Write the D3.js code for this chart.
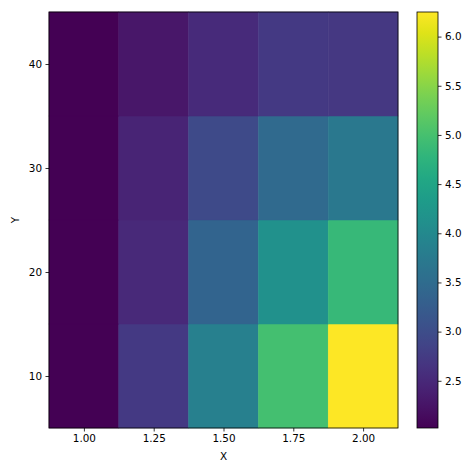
<!DOCTYPE html>
<html>
<head>
<meta charset="utf-8">
<script src="https://cdn.jsdelivr.net/npm/d3@7"></script>
<style>
  body { margin: 0; background: #fff; }
  text { font-family: "DejaVu Sans", sans-serif; fill: #000; }
</style>
</head>
<body>
<svg id="chart" width="474" height="474"></svg>
<script>
// grid centres
var xVals = [1.00, 1.25, 1.50, 1.75, 2.00];
var yVals = [10, 20, 30, 40];
// z values, one row per y (10,20,30,40), columns follow xVals
var zRow10 = [2.02, 2.72, 3.84, 4.98, 6.25];
var zRow20 = [2.02, 2.50, 3.37, 4.14, 4.85];
var zRow30 = [2.02, 2.44, 2.97, 3.46, 3.71];
var zRow40 = [2.02, 2.27, 2.53, 2.73, 2.71];
var zRows = [zRow10, zRow20, zRow30, zRow40];

var xTicks = [1.00, 1.25, 1.50, 1.75, 2.00];
var yTicks = [10, 20, 30, 40];
var cTicks = [2.5, 3.0, 3.5, 4.0, 4.5, 5.0, 5.5, 6.0];

var svg = d3.select('#chart');
var fs = 10.4;

var pLeft = 49, pRight = 398, pTop = 12, pBottom = 428;

var x = d3.scaleLinear().domain([0.875, 2.125]).range([pLeft, pRight]);
var y = d3.scaleLinear().domain([5, 45]).range([pBottom, pTop]);

var allZ = d3.merge(zRows);
var zmin = d3.min(allZ), zmax = d3.max(allZ);
var color = d3.scaleSequential(d3.interpolateViridis).domain([zmin, zmax]);

var cells = [];
yVals.forEach(function(yv, j){
  xVals.forEach(function(xv, i){
    cells.push({x: xv, y: yv, z: zRows[j][i]});
  });
});

var dx = 0.125, dy = 5;
svg.append('g').selectAll('rect')
  .data(cells)
  .enter().append('rect')
  .attr('x', function(d){ return x(d.x - dx); })
  .attr('y', function(d){ return y(d.y + dy); })
  .attr('width', function(d){ return x(d.x + dx) - x(d.x - dx); })
  .attr('height', function(d){ return y(d.y - dy) - y(d.y + dy); })
  .attr('fill', function(d){ return color(d.z); })
  .attr('stroke', function(d){ return color(d.z); })
  .attr('stroke-width', 0.5);

// axes
var xAxis = d3.axisBottom(x).tickValues(xTicks).tickFormat(d3.format('.2f')).tickSizeOuter(0).tickSize(3.5).tickPadding(3.5);
var yAxis = d3.axisLeft(y).tickValues(yTicks).tickFormat(d3.format('d')).tickSizeOuter(0).tickSize(3.5).tickPadding(3.5);

var gx = svg.append('g').attr('transform', 'translate(0,' + pBottom + ')').call(xAxis);
var gy = svg.append('g').attr('transform', 'translate(' + pLeft + ',0)').call(yAxis);
[gx, gy].forEach(function(g){
  g.select('.domain').remove();
  g.selectAll('line').attr('stroke', '#000').attr('stroke-width', 0.8);
  g.selectAll('text').attr('font-size', fs).attr('font-family', 'DejaVu Sans').attr('fill', '#000');
});

svg.append('rect')
  .attr('x', pLeft).attr('y', pTop)
  .attr('width', pRight - pLeft).attr('height', pBottom - pTop)
  .attr('fill', 'none').attr('stroke', '#000').attr('stroke-width', 0.8);

svg.append('text')
  .attr('x', (pLeft + pRight) / 2).attr('y', 460)
  .attr('text-anchor', 'middle').attr('font-size', fs).text('X');
svg.append('text')
  .attr('transform', 'translate(19,' + ((pTop + pBottom) / 2) + ') rotate(-90)')
  .attr('text-anchor', 'middle').attr('font-size', fs).text('Y');

// colorbar
var cbLeft = 417, cbRight = 438;
var c = d3.scaleLinear().domain([zmin, zmax]).range([pBottom, pTop]);

var grad = svg.append('defs').append('linearGradient')
  .attr('id', 'cbgrad').attr('x1', 0).attr('y1', 1).attr('x2', 0).attr('y2', 0);
d3.range(0, 1.0001, 0.05).forEach(function(t){
  grad.append('stop').attr('offset', t).attr('stop-color', d3.interpolateViridis(t));
});
svg.append('rect')
  .attr('x', cbLeft).attr('y', pTop)
  .attr('width', cbRight - cbLeft).attr('height', pBottom - pTop)
  .attr('fill', 'url(#cbgrad)').attr('stroke', '#000').attr('stroke-width', 0.8);

var cAxis = d3.axisRight(c).tickValues(cTicks).tickFormat(d3.format('.1f')).tickSizeOuter(0).tickSize(3.5).tickPadding(3.5);
var gc = svg.append('g').attr('transform', 'translate(' + cbRight + ',0)').call(cAxis);
gc.select('.domain').remove();
gc.selectAll('line').attr('stroke', '#000').attr('stroke-width', 0.8);
gc.selectAll('text').attr('font-size', fs).attr('font-family', 'DejaVu Sans').attr('fill', '#000');
</script>
</body>
</html>
